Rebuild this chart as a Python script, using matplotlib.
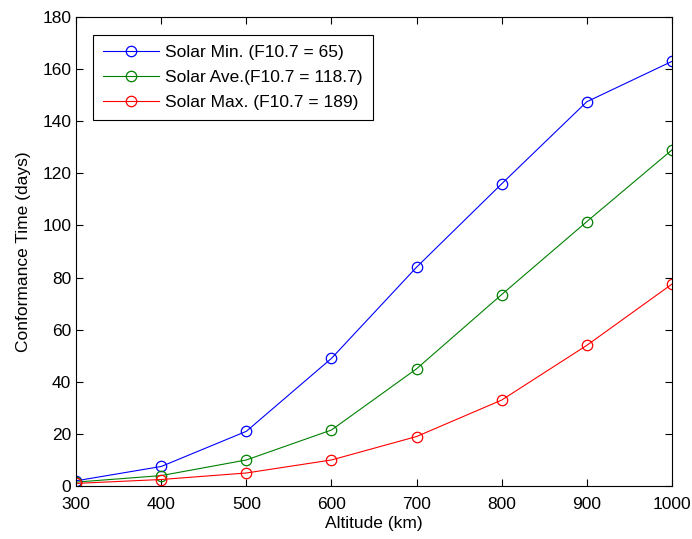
import matplotlib
matplotlib.use("Agg")
import matplotlib.pyplot as plt

altitude = [300, 400, 500, 600, 700, 800, 900, 1000]
solar_min = [2, 7.5, 21, 49, 84, 116, 147.5, 163]
solar_ave = [1.5, 4, 10, 21.5, 45, 73.5, 101.5, 129]
solar_max = [1, 2.5, 5, 10, 19, 33, 54, 77.5]
labels = ["Solar Min. (F10.7 = 65)", "Solar Ave.(F10.7 = 118.7)", "Solar Max. (F10.7 = 189)"]

plt.rcParams['font.family'] = ['Liberation Sans', 'DejaVu Sans']
fs = 12.5

fig = plt.figure(figsize=(6.92, 5.39), dpi=100)
ax = fig.add_axes([0.110, 0.0983, 0.861, 0.870])

for y, c, lab in zip([solar_min, solar_ave, solar_max], ['#0000ff', '#008000', '#ff0000'], labels):
    ax.plot(altitude, y, color=c, lw=0.8, marker='o', ms=7.5, mfc='none', mec=c, mew=0.9, label=lab)

ax.set_xlim(300, 1000)
ax.set_ylim(0, 180)
ax.set_xticks(range(300, 1001, 100))
ax.set_yticks(range(0, 181, 20))
ax.tick_params(direction='in', top=True, right=True, length=5, width=0.8, labelsize=fs)
ax.tick_params(axis='x', pad=8)
for s in ax.spines.values():
    s.set_linewidth(0.8)
ax.set_xlabel("Altitude (km)", fontsize=fs, labelpad=3)
ax.set_ylabel("Conformance Time (days)", fontsize=fs, labelpad=8)

leg = ax.legend(loc='upper left', bbox_to_anchor=(0.028, 0.962), fancybox=False, framealpha=1,
                edgecolor='black', borderpad=0.6, labelspacing=0.55, handlelength=3.2, handletextpad=0.35,
                borderaxespad=0, fontsize=fs)
leg.get_frame().set_linewidth(0.8)

fig.savefig("out.png", dpi=100)
